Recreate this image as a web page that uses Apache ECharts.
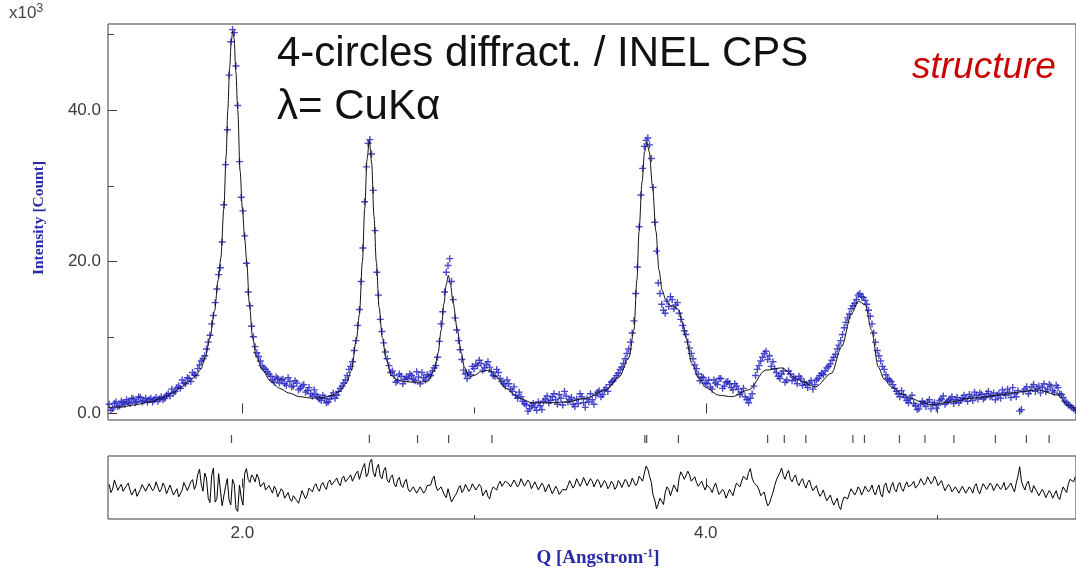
<!DOCTYPE html>
<html><head><meta charset="utf-8">
<script src="https://cdn.jsdelivr.net/npm/echarts@6/dist/echarts.min.js"></script>
<style>html,body{margin:0;padding:0;background:#fff}#c{width:1076px;height:569px}</style>
</head><body><div id="c"></div>
<script>
// ---- data ----
// observed profile: regular Q grid, two interleaved sets of readings (on-grid and half-step)
const qStart = 1.425, qStep = 0.015;
const obsIntensity = [
 1.2,0.6,1.5,1.0,1.4,1.8,1.3,1.9,1.6,2.1,1.7,1.5,2.0,1.8,1.6,2.2,2.0,2.6,3.2,2.9,3.6,4.4,3.9,4.6,5.4,5.0,
 6.4,7.2,8.5,10.3,12.9,16.4,19.2,27.5,37.4,49.0,50.2,40.6,28.5,23.4,16.0,11.5,8.8,7.5,6.3,5.8,
 5.2,4.4,4.8,4.0,4.5,3.7,4.2,3.6,4.0,3.3,3.8,3.0,2.6,3.1,2.2,1.7,2.0,1.5,2.3,2.0,2.9,3.6,4.4,5.8,
 6.8,9.6,13.7,21.8,32.5,36.1,29.4,18.6,12.4,9.3,7.2,5.4,5.0,4.3,4.9,4.5,
 4.6,5.0,4.3,4.8,5.4,4.4,4.9,5.6,6.3,9.5,13.4,18.6,20.4,15.0,11.0,8.4,5.7,4.6,5.1,5.9,
 6.3,6.6,6.0,6.8,5.5,4.9,5.4,4.2,3.6,3.9,2.9,2.4,2.8,1.6,1.1,0.6,1.3,0.4,1.0,1.6,
 2.3,1.7,2.6,1.2,2.0,2.9,1.5,2.1,0.9,1.3,2.2,0.8,1.5,1.8,2.4,3.0,2.5,3.4,3.8,4.3,
 5.0,5.8,6.6,7.9,9.4,12.2,19.3,28.8,35.2,36.3,33.6,25.2,17.2,14.4,13.2,14.1,15.0,14.3,13.2,11.6,
 10.4,8.6,7.2,5.9,4.3,4.7,3.9,3.5,4.4,3.8,4.6,3.6,4.2,3.4,3.9,3.2,2.8,2.2,1.4,2.6,
 5.0,6.3,7.4,8.2,7.6,6.8,5.4,4.6,5.6,4.4,5.2,4.8,3.9,4.6,4.1,3.4,4.3,3.8,4.6,5.3,
 5.6,6.2,7.0,7.8,9.0,10.4,12.0,13.1,14.2,15.0,15.8,15.3,14.4,12.8,10.6,8.3,6.9,5.8,4.6,4.2,
 3.3,2.6,3.0,2.1,1.4,2.4,1.0,0.6,1.6,0.9,1.8,1.2,0.7,1.7,2.3,1.5,1.9,1.3,2.1,1.7,
 2.4,1.6,2.2,2.8,1.9,2.5,2.1,2.9,2.3,1.8,2.6,3.1,2.4,2.8,3.4,2.2,0.3,2.9,3.5,3.0,
 3.8,3.3,2.7,3.9,3.2,3.6,2.8,3.4,2.5,1.6,1.1,0.8,0.4
];
const obsIntensityMid = [
 0.4,1.3,0.9,1.6,1.2,1.5,2.0,1.4,2.2,1.5,2.0,1.8,1.5,2.1,1.9,1.8,2.4,2.3,2.7,3.4,3.3,4.0,4.7,4.2,5.1,5.9,
 6.9,7.6,9.4,11.8,14.6,18.3,22.6,32.8,44.6,50.6,45.8,33.2,26.7,19.8,14.2,10.1,8.0,6.9,6.0,5.5,
 4.9,4.1,4.6,4.4,3.9,4.7,3.5,4.3,3.1,3.6,2.8,3.4,2.3,2.5,1.9,2.4,1.4,1.9,2.7,2.4,3.3,4.0,5.0,6.2,
 8.3,11.6,17.4,27.9,35.6,34.2,24.1,15.6,10.8,8.1,6.3,5.6,4.1,5.2,3.9,4.8,
 5.2,4.5,5.5,3.9,4.7,5.1,5.0,6.0,7.4,11.8,16.0,19.5,17.4,12.6,9.6,7.1,5.2,5.4,6.2,6.5,
 7.0,5.7,6.4,6.1,5.0,5.8,4.6,3.9,4.4,3.2,3.5,2.0,2.2,1.3,0.3,1.0,0.8,1.5,0.5,1.9,
 1.4,2.2,1.8,2.5,1.1,2.3,1.8,1.2,1.9,2.6,1.4,1.9,2.6,1.2,2.8,2.2,3.1,2.9,4.1,4.6,
 5.3,6.1,7.2,8.5,10.6,15.8,24.6,32.3,36.0,35.4,29.8,21.4,15.8,13.6,14.8,15.4,13.8,14.6,12.4,10.9,
 9.4,7.9,6.4,5.2,4.8,4.0,4.4,3.2,4.0,4.6,3.3,4.1,3.9,3.1,3.6,2.5,3.3,1.8,2.0,3.6,
 5.8,6.9,7.9,7.1,6.2,5.9,4.9,5.2,4.1,5.6,4.3,4.5,4.9,3.7,3.8,4.0,3.2,4.4,5.0,5.1,
 6.0,6.5,7.4,8.5,9.6,11.3,12.6,13.8,14.5,15.6,15.4,14.9,13.6,11.8,9.4,7.6,6.2,5.1,4.4,3.8,
 2.9,2.2,2.5,1.7,1.9,1.3,0.5,1.2,1.3,1.5,0.6,1.4,1.1,1.9,1.2,1.7,2.2,1.8,1.4,2.0,
 2.0,2.5,1.7,2.4,2.7,1.9,2.6,2.2,2.7,2.4,2.0,2.7,3.2,2.1,2.6,3.0,0.5,3.2,2.6,3.5,
 2.9,3.6,3.4,2.9,3.8,3.0,3.7,2.6,2.1,1.4,1.0,0.6
];
const calcQ = [
 1.42,1.47,1.53,1.60,1.66,1.70,1.73,1.77,1.80,1.82,1.84,1.86,1.88,1.895,1.907,1.92,1.93,1.937,1.945,1.952,
 1.958,1.964,1.972,1.98,1.99,2.00,2.01,2.019,2.03,2.044,2.06,2.087,2.12,2.161,2.20,2.247,2.304,2.35,2.389,2.42,
 2.449,2.47,2.492,2.505,2.518,2.528,2.538,2.548,2.558,2.568,2.578,2.59,2.604,2.62,2.643,2.67,2.70,2.75,2.80,2.828,
 2.845,2.858,2.87,2.88,2.889,2.898,2.91,2.928,2.945,2.958,2.98,3.00,3.03,3.065,3.096,3.139,3.195,3.251,3.324,3.397,
 3.483,3.57,3.626,3.669,3.69,3.703,3.712,3.725,3.736,3.746,3.756,3.77,3.785,3.798,3.812,3.828,3.85,3.87,3.884,3.90,
 3.914,3.94,3.97,4.00,4.056,4.112,4.185,4.258,4.327,4.401,4.474,4.543,4.586,4.630,4.659,4.689,4.715,4.745,4.77,4.801,
 4.85,4.887,4.93,4.973,5.059,5.145,5.262,5.348,5.434,5.52,5.563,5.598
];
const calcIntensity = [
 0.8,0.8,1.1,1.5,2.1,2.7,3.3,4.2,5.0,5.8,7.4,10.0,13.5,17.5,20.5,27,34,40,45.5,49,
 50.4,49.5,45,40,32,27,23,20,14.5,10,7.5,5.7,4.3,3.3,2.7,2.2,2.0,2.1,2.4,2.9,
 4.0,5.6,9.7,13,20,27,33.5,36.0,33,26,20,14,10,7.2,5.0,4.4,4.2,4.1,4.2,5.7,
 8,11,14.5,17,18.2,17,14.5,11,8,6.1,4.8,5.0,5.5,5.7,4.8,3.3,2.0,1.4,1.4,1.5,
 2.0,3.1,4.8,7.4,11,17.6,24,30.5,34.5,35.8,34.5,30,24,18.9,16.2,14.9,14.2,14.0,13.6,12,
 10,6.6,4.6,3.4,2.4,2.2,3.1,5.7,6.0,4.4,3.5,5.3,8.8,13.2,14.8,14.3,11,6.1,4.5,3.5,
 2.5,2.0,1.5,1.1,1.5,2.0,2.4,2.8,3.1,2.4,1.1,0.4
];
const diffValues = [
 1.0,-0.5,1.8,0.2,-1.2,0.6,-0.8,-1.8,-2.8,-0.6,0.4,-0.9,0.8,-0.3,1.2,-0.6,0.3,-1.5,0.9,-2.2,
 -3.0,-0.8,1.4,-1.0,2.5,0.8,5.8,-1.2,3.0,-4.8,6.2,-3.5,5.0,-6.4,2.8,-5.5,1.0,-7.6,-3.2,4.5,
 2.6,4.0,1.8,3.0,0.4,-0.8,0.6,-1.8,-0.6,-2.4,-1.2,-2.8,-3.6,-2.6,-4.2,-3.0,-1.6,-2.4,-0.8,0.4,
 -0.4,0.8,0.2,1.6,0.8,2.2,1.4,2.8,1.8,3.2,2.0,4.4,2.6,6.4,3.4,8.0,4.8,6.2,3.6,5.4,
 2.4,3.2,1.2,2.4,0.8,1.8,-0.4,-1.2,0.2,-1.6,-0.4,-1.0,1.2,2.6,0.6,-1.2,0.4,-3.2,-0.8,-5.0,
 -1.8,0.6,-0.8,0.4,-0.4,0.8,-0.6,0.2,-2.0,-2.8,-1.0,-0.2,1.0,0.4,2.0,1.2,0.6,1.8,1.0,2.2,
 0.8,1.6,0.2,1.4,-0.2,0.6,-0.8,0.4,-1.4,-0.6,-2.8,-1.2,0.6,1.6,0.8,2.2,1.4,2.6,1.2,2.0,
 0.8,1.8,0.6,1.4,0.4,1.2,0.2,1.4,0.6,1.8,1.0,2.4,1.4,3.2,4.6,5.8,1.6,-4.0,-6.2,-3.8,
 -1.6,-0.6,-2.0,0.4,3.0,4.4,3.2,4.0,2.4,1.6,1.2,0.4,0.8,-0.4,0.2,-0.6,-2.6,-1.4,-2.8,-1.6,
 -0.4,0.8,2.0,3.6,4.8,3.0,1.2,-0.8,-2.4,-4.0,-5.0,-1.6,2.4,4.8,3.8,4.4,2.8,3.2,1.6,2.0,
 1.0,1.6,0.4,-0.6,-1.4,-2.0,-2.8,-3.6,-4.2,-5.0,-6.0,-4.4,-2.6,-1.8,-0.8,-1.4,-0.6,-1.2,0.2,-0.6,
 -1.4,-0.4,-2.2,0.6,-0.8,0.4,-0.6,0.8,-0.4,0.6,0.2,1.0,-0.2,1.2,2.2,1.6,2.8,2.0,2.4,1.2,
 0.4,-0.6,0.2,-1.0,-0.4,-1.2,-0.2,-1.6,-0.6,0.4,-1.0,-0.2,0.8,-0.4,0.6,-0.6,1.0,0.2,-0.8,0.6,
 -0.2,1.4,6.6,0.4,1.2,-0.6,0.6,-1.4,-2.2,-1.6,-2.6,-1.8,-2.2,-3.0,-1.6,-0.4,1.2,2.6,3.4
];
const diffValuesMid = [
 -1.6,2.4,-0.9,1.0,-1.8,1.4,-2.4,-0.4,-3.2,0.9,-1.2,1.2,-1.0,1.8,-1.4,1.4,-2.0,0.8,-2.4,-0.4,
 -2.6,1.6,-1.0,1.8,-0.6,4.2,1.0,4.6,-3.4,3.8,-4.6,4.4,-5.8,0.4,-4.0,2.6,-6.8,0.8,-5.6,6.0,
 1.6,3.2,4.2,0.2,1.6,-1.4,-0.6,0.4,-3.0,-0.4,-3.4,-1.6,-4.4,-2.0,-5.0,-1.0,-3.6,-0.2,-1.4,1.2,
 -1.2,1.6,-0.6,2.4,0.2,3.0,0.6,3.6,1.2,4.0,1.6,5.2,2.0,7.6,4.4,9.0,3.4,7.4,2.8,6.4,
 1.6,4.0,0.2,3.2,0.0,2.6,-1.4,0.2,-1.8,0.2,-1.8,0.6,0.8,3.6,-1.0,0.2,-2.4,-0.4,-4.6,-2.6,
 -0.2,-1.6,1.0,-1.2,1.2,-0.8,1.0,-2.6,-0.8,-3.6,0.2,-0.8,2.0,0.4,2.6,0.2,2.4,0.2,2.8,0.4,
 2.4,-0.4,1.8,-0.8,1.4,-1.4,1.0,-2.0,0.4,-2.2,-0.6,-0.8,2.2,-0.2,2.8,0.4,3.2,0.6,2.8,0.2,
 2.6,0.0,2.2,-0.4,2.0,-0.6,2.2,0.0,2.6,0.2,3.0,0.6,3.6,2.0,6.8,3.6,-2.4,-6.8,-3.4,-5.4,
 0.2,-2.6,0.8,-1.4,5.0,2.6,5.2,2.0,3.4,0.4,2.0,-0.8,1.4,-1.6,1.4,-2.2,-0.6,-3.4,-0.6,-2.6,
 1.4,0.2,3.6,2.4,6.0,1.6,0.4,-2.6,-1.4,-5.8,-3.2,0.6,3.0,6.2,2.6,5.4,1.8,4.0,0.6,2.8,
 -0.2,2.4,-1.0,0.6,-2.8,-0.8,-4.2,-2.4,-5.6,-3.4,-7.0,-3.0,-3.6,-0.4,-2.4,0.2,-2.4,0.4,-1.4,0.8,
 -2.4,0.8,-3.0,1.4,-1.8,1.6,-1.4,1.6,-1.2,1.8,-0.4,2.0,-0.8,2.8,0.8,3.4,1.2,3.6,0.6,2.2,
 -1.0,1.0,-1.4,0.2,-1.8,0.4,-1.8,0.2,-1.8,1.2,-2.0,1.2,-0.6,1.4,-1.0,1.2,-0.6,1.6,-1.4,1.4,
 -1.4,3.6,2.0,-0.8,2.0,-1.6,1.2,-2.6,-0.6,-3.2,-1.0,-3.4,-1.0,-3.8,0.2,-1.6,2.6,1.8
];
const braggQ = [1.953,2.548,2.756,2.890,3.077,3.737,3.745,3.882,4.267,4.339,4.432,4.635,4.685,4.836,4.946,5.071,5.250,5.384,5.482];
const xLabelTicks = [2, 4];
const xMinorTicks = [3, 5];
const yLabelTicks = [0, 20, 40];
const yMinorTicks = [10, 30, 50];
const titleLines = ['4-circles diffract. / INEL CPS', 'λ= CuKα'];
const cornerLabel = 'structure';

// ---- build ----
function interleave(a, b) {
  const out = [];
  for (let i = 0; i < a.length; i++) {
    out.push([qStart + qStep * i, a[i]]);
    if (i < b.length) out.push([qStart + qStep * (i + 0.5), b[i]]);
  }
  return out;
}
const obsData = interleave(obsIntensity, obsIntensityMid);
const diffData = interleave(diffValues, diffValuesMid);
const calcData = calcQ.map((q, i) => [q, calcIntensity[i]]);
const braggData = braggQ.map(q => [q, 0.5]);

const X_MIN = 1.42, X_MAX = 5.598;
const Y_MIN = -0.87, Y_MAX = 51.34;
const frame = '#3a3a3a';
const sans = 'Liberation Sans, Arial, sans-serif';
const serif = 'Liberation Serif, Times New Roman, serif';
const nameBlue = '#2a2aa8';

function xAx(grid, ticks, len, labels, extra) {
  return Object.assign({
    type: 'value', gridIndex: grid, min: X_MIN, max: X_MAX, position: 'bottom',
    axisLine: { show: false }, splitLine: { show: false },
    axisTick: { show: ticks.length > 0, inside: true, length: len, customValues: ticks, lineStyle: { color: frame } },
    axisLabel: { show: !!labels, customValues: ticks, formatter: v => v.toFixed(1), color: '#3a3a3a', fontFamily: sans, fontSize: 17, margin: 6 }
  }, extra || {});
}
function yAx(grid, min, max, ticks, len, labels) {
  return {
    type: 'value', gridIndex: grid, min: min, max: max, position: 'left',
    axisLine: { show: false }, splitLine: { show: false },
    axisTick: { show: ticks.length > 0, inside: true, length: len, customValues: ticks, lineStyle: { color: frame } },
    axisLabel: { show: !!labels, customValues: ticks, formatter: v => v.toFixed(1), color: '#3a3a3a', fontFamily: sans, fontSize: 17, margin: 7 }
  };
}

const chart = echarts.init(document.getElementById('c'), null, { renderer: 'canvas' });
chart.setOption({
  backgroundColor: '#fff',
  animation: false,
  grid: [
    { left: 108, top: 24, width: 970, height: 396, show: true, borderColor: frame, borderWidth: 1, backgroundColor: 'transparent' },
    { left: 108, top: 430, width: 970, height: 18, show: false },
    { left: 108, top: 456, width: 970, height: 65, show: true, borderColor: frame, borderWidth: 1, backgroundColor: 'transparent' }
  ],
  xAxis: [
    xAx(0, xLabelTicks, 10, false),
    xAx(0, xMinorTicks, 6, false),
    xAx(1, [], 0, false),
    xAx(2, xLabelTicks, 9, true, {
      name: '{a|Q [Angstrom}{s|-1}{a|]}', nameLocation: 'middle', nameGap: 29,
      nameTextStyle: { padding: [0, 0, 0, 12], rich: {
        a: { fontFamily: serif, fontWeight: 'bold', fontSize: 19, color: nameBlue },
        s: { fontFamily: serif, fontWeight: 'bold', fontSize: 12, color: nameBlue, verticalAlign: 'top', padding: [0, 0, 9, 0] }
      } }
    }),
    xAx(2, xMinorTicks, 4, false)
  ],
  yAxis: [
    Object.assign(yAx(0, Y_MIN, Y_MAX, yLabelTicks, 9, true), {
      name: 'Intensity [Count]', nameLocation: 'middle', nameGap: 61, nameRotate: 90,
      nameTextStyle: { fontFamily: serif, fontWeight: 'bold', fontSize: 15.5, color: nameBlue, padding: [0, 0, 0, 8] }
    }),
    yAx(0, Y_MIN, Y_MAX, yMinorTicks, 6, false),
    yAx(1, 0, 1, [], 0, false),
    yAx(2, -10, 10, [], 0, false)
  ],
  series: [
    { type: 'scatter', name: 'observed', xAxisIndex: 0, yAxisIndex: 0, data: obsData,
      symbol: 'path://M3,0H4.5V3H7.5V4.5H4.5V7.5H3V4.5H0V3H3Z', symbolSize: 7,
      itemStyle: { color: '#1c1cbc' }, z: 2, silent: true },
    { type: 'line', name: 'calculated', xAxisIndex: 0, yAxisIndex: 0, data: calcData,
      showSymbol: false, smooth: 0.3, smoothMonotone: 'x',
      lineStyle: { color: '#111', width: 1 }, z: 3, silent: true },
    { type: 'scatter', name: 'bragg', xAxisIndex: 2, yAxisIndex: 2, data: braggData,
      symbol: 'rect', symbolSize: [1.2, 8], itemStyle: { color: '#222' }, silent: true },
    { type: 'line', name: 'difference', xAxisIndex: 3, yAxisIndex: 3, data: diffData,
      showSymbol: false, lineStyle: { color: '#000', width: 1 }, silent: true }
  ],
  graphic: [
    { type: 'text', left: 9, top: 3, style: {
        text: '{a|x10}{s|3}', fill: '#444',
        rich: { a: { fontFamily: sans, fontSize: 17, fill: '#444' }, s: { fontFamily: sans, fontSize: 12, fill: '#444', verticalAlign: 'top', padding: [0, 0, 9, 0] } } } },
    { type: 'text', left: 277, top: 33, style: { text: titleLines[0], font: '42px ' + sans, fill: '#111' } },
    { type: 'text', left: 277, top: 86, style: { text: titleLines[1], font: '42px ' + sans, fill: '#111' } },
    { type: 'text', left: 912, top: 49, style: { text: cornerLabel, font: 'italic 37px ' + sans, fill: '#cc0000' } }
  ]
});
</script></body></html>
